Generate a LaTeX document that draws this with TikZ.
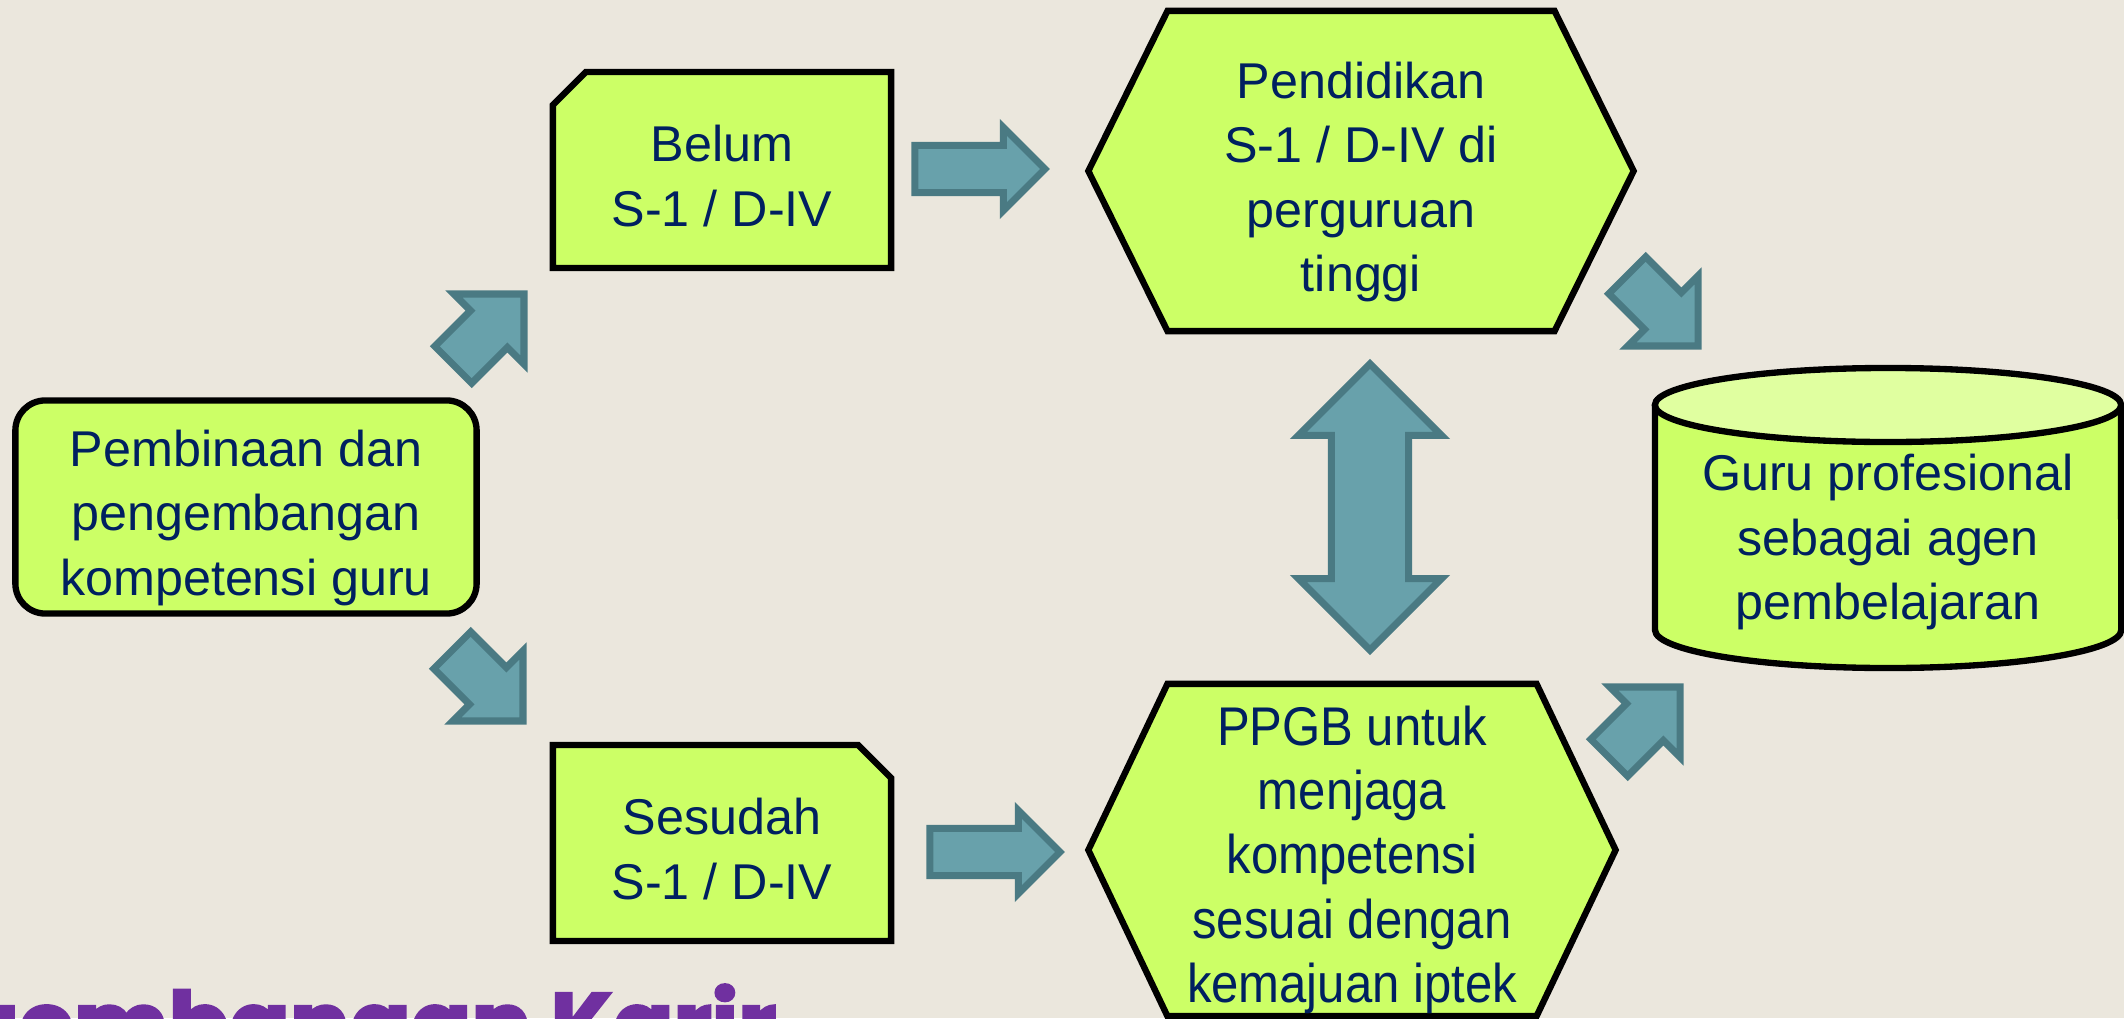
\documentclass[tikz,border=0pt]{standalone}
\usepackage{fontspec}
\setmainfont{Liberation Sans}
\newfontfamily\narrowfont{Liberation Sans}[FakeStretch=0.9]
\newfontfamily\titlefont{Poppins}[BoldFeatures={FakeBold=3}]
\usepackage{tikz}
\usetikzlibrary{positioning,shapes.misc,shapes.symbols,shapes.arrows}

\definecolor{bgcol}{RGB}{235,231,221}
\definecolor{boxfill}{RGB}{204,255,102}
\definecolor{topfill}{RGB}{224,255,160}
\definecolor{txtcol}{RGB}{0,32,96}
\definecolor{arrfill}{RGB}{104,161,171}
\definecolor{arredge}{RGB}{74,122,131}
\definecolor{titlecol}{RGB}{112,48,160}

% lines of a box text, set a little low in the box
\newcommand{\teks}[1]{\raisebox{-0.11cm}[\height][\depth]{\begin{tabular}{@{}c@{}}#1\end{tabular}}}

\begin{document}
\begin{tikzpicture}[x=0.01cm, y=-0.01cm,
  box/.style={draw=black, fill=boxfill, line width=1.8pt, inner sep=0pt, text=txtcol,
    font=\fontsize{14.3}{18.3}\selectfont},
  chambox/.style={box, chamfered rectangle, chamfered rectangle xsep=0.165cm,
    chamfered rectangle ysep=0.165cm, minimum width=3.38cm, minimum height=1.96cm},
  hexbox/.style={box, signal, signal to=west and east},
  fatarrow/.style={single arrow, draw=arredge, fill=arrfill, line width=2pt,
    single arrow tip angle=90, inner xsep=0pt, outer sep=0pt, anchor=tip},
  slantarrow/.style={fatarrow, minimum height=1.0cm, minimum width=0.92cm,
    inner ysep=0.225cm, single arrow head extend=0.235cm},
  flatarrow/.style={fatarrow, minimum height=1.30cm, minimum width=0.76cm,
    inner ysep=0.20cm, single arrow head extend=0.18cm}]

  % Canvas
  \useasboundingbox (0,0) rectangle (2124,1018);
  \clip (0,0) rectangle (2124,1018);
  \fill[bgcol] (0,0) rectangle (2124,1018);

  % Title (cut off at the bottom)
  \node[font=\titlefont\bfseries\fontsize{25.4}{30}\selectfont, text=titlecol,
    anchor=base east, inner sep=0pt] (judul) at (777,1056) {gembangan Karir};

  % Boxes
  \node[box, rounded corners=0.3cm, minimum width=4.61cm, minimum height=2.13cm]
    (pembinaan) at (246,507) {\teks{Pembinaan dan\\pengembangan\\kompetensi guru}};
  \node[chambox, chamfered rectangle corners=north west]
    (belum) at (722,170) {\teks{Belum\\S-1 / D-IV}};
  \node[chambox, chamfered rectangle corners=north east]
    (sesudah) at (722,843) {\teks{Sesudah\\S-1 / D-IV}};
  \node[hexbox, signal pointer angle=127.4, minimum width=5.45cm, minimum height=3.2cm]
    (pendidikan) at (1361,171) {\teks{Pendidikan\\S-1 / D-IV di\\perguruan\\tinggi}};
  \node[hexbox, signal pointer angle=129.1, minimum width=5.27cm, minimum height=3.32cm,
    font=\narrowfont\fontsize{15.5}{18.3}\selectfont]
    (ppgb) at (1352,850) {\teks{PPGB untuk\\menjaga\\kompetensi\\sesuai dengan\\kemajuan iptek}};

  % Cylinder
  \fill[boxfill] (1655,405) -- (1655,630)
    arc[start angle=180, end angle=360, x radius=2.33cm, y radius=0.38cm]
    -- (2121,405) -- cycle;
  \draw[line width=1.8pt] (1655,405) -- (1655,630)
    arc[start angle=180, end angle=360, x radius=2.33cm, y radius=0.38cm]
    -- (2121,405);
  \filldraw[fill=topfill, line width=1.8pt] (1888,405)
    ellipse[x radius=2.33cm, y radius=0.37cm];
  \node[text=txtcol, align=center, inner sep=0pt, font=\fontsize{14.3}{18.3}\selectfont]
    (guru) at (1888,542) {Guru profesional\\sebagai agen\\pembelajaran};

  % Block arrows
  \node[slantarrow, rotate=45] (panahA) at (524,294) {};
  \node[slantarrow, rotate=-45] (panahB) at (523,721) {};
  \node[flatarrow] (panahC) at (1045,169) {};
  \node[flatarrow] (panahD) at (1060,852) {};
  \node[slantarrow, rotate=-45] (panahE) at (1698,346) {};
  \node[slantarrow, rotate=45] (panahF) at (1680,687) {};
  \node[double arrow, draw=arredge, fill=arrfill, line width=2pt,
    inner xsep=0pt, inner ysep=0.35cm,
    double arrow tip angle=90, double arrow head extend=0.33cm,
    minimum width=1.36cm, minimum height=2.86cm, rotate=90] (panahG) at (1370,507) {};

\end{tikzpicture}
\end{document}
